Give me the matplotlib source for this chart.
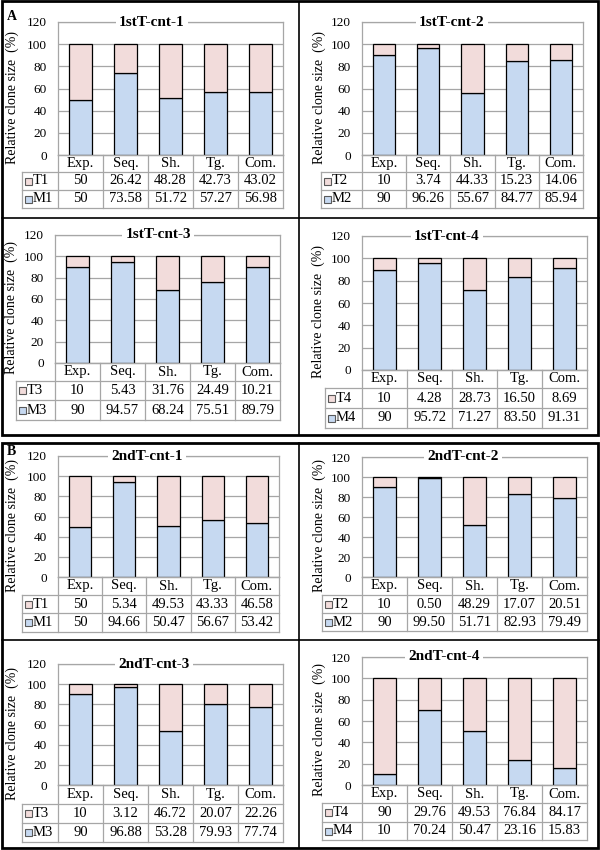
import matplotlib
matplotlib.use('Agg')
import matplotlib.pyplot as plt
import matplotlib.transforms as mtransforms
from matplotlib.lines import Line2D
from matplotlib.patches import Rectangle

plt.rcParams['font.family'] = ['Liberation Serif', 'DejaVu Serif']

PINK = '#F2DCDB'
BLUE = '#C6D9F1'
GRID = '#A6A6A6'
TABLE = '#A6A6A6'

W, H = 600, 850

categories = ['Exp.', 'Seq.', 'Sh.', 'Tg.', 'Com.']

a1_t = [50, 26.42, 48.28, 42.73, 43.02]
a1_m = [50, 73.58, 51.72, 57.27, 56.98]
a2_t = [10, 3.74, 44.33, 15.23, 14.06]
a2_m = [90, 96.26, 55.67, 84.77, 85.94]
a3_t = [10, 5.43, 31.76, 24.49, 10.21]
a3_m = [90, 94.57, 68.24, 75.51, 89.79]
a4_t = [10, 4.28, 28.73, 16.50, 8.69]
a4_m = [90, 95.72, 71.27, 83.50, 91.31]
b1_t = [50, 5.34, 49.53, 43.33, 46.58]
b1_m = [50, 94.66, 50.47, 56.67, 53.42]
b2_t = [10, 0.50, 48.29, 17.07, 20.51]
b2_m = [90, 99.50, 51.71, 82.93, 79.49]
b3_t = [10, 3.12, 46.72, 20.07, 22.26]
b3_m = [90, 96.88, 53.28, 79.93, 77.74]
b4_t = [90, 29.76, 49.53, 76.84, 84.17]
b4_m = [10, 70.24, 50.47, 23.16, 15.83]

# (title, T name, M name, T values, M values)
panels = [
    ('1stT-cnt-1', 'T1', 'M1', a1_t, a1_m),
    ('1stT-cnt-2', 'T2', 'M2', a2_t, a2_m),
    ('1stT-cnt-3', 'T3', 'M3', a3_t, a3_m),
    ('1stT-cnt-4', 'T4', 'M4', a4_t, a4_m),
    ('2ndT-cnt-1', 'T1', 'M1', b1_t, b1_m),
    ('2ndT-cnt-2', 'T2', 'M2', b2_t, b2_m),
    ('2ndT-cnt-3', 'T3', 'M3', b3_t, b3_m),
    ('2ndT-cnt-4', 'T4', 'M4', b4_t, b4_m),
]

# layout in pixels: axis left, right, top(120), bottom(0), row edges,
# label column left, ylabel x, title x
layout = [
    dict(l=58, r=283, t=22, b=155, rows=(172, 190, 208), ll=22, yl=12, tx=152),
    dict(l=362, r=583, t=22, b=155, rows=(172, 190, 208), ll=321, yl=319, tx=452),
    dict(l=55, r=280, t=235, b=363, rows=(381, 400, 420), ll=16, yl=11, tx=158),
    dict(l=362, r=587, t=236, b=370, rows=(388, 408, 428), ll=325, yl=318, tx=447),
    dict(l=58, r=279, t=456, b=577, rows=(595, 613, 632), ll=22, yl=12, tx=147),
    dict(l=362, r=587, t=457, b=577, rows=(595, 613, 631), ll=322, yl=319, tx=463),
    dict(l=58, r=283, t=664, b=785, rows=(804, 823, 842), ll=22, yl=12, tx=154),
    dict(l=362, r=587, t=657, b=785, rows=(803, 822, 840), ll=322, yl=319, tx=444),
]


def fy(y):
    return 1 - y / H


def fmt(v):
    return f'{v:.0f}' if float(v).is_integer() else f'{v:.2f}'


def draw_panel(fig, spec, lay):
    title, tname, mname, tv, mv = spec
    l, r, t, b = lay['l'], lay['r'], lay['t'], lay['b']
    ax = fig.add_axes([l / W, fy(b), (r - l) / W, (b - t) / H])
    x = list(range(len(categories)))
    ax.bar(x, mv, width=0.5, color=BLUE, edgecolor='black', linewidth=0.9, zorder=3)
    ax.bar(x, tv, bottom=mv, width=0.5, color=PINK, edgecolor='black',
           linewidth=0.9, zorder=3)
    ax.set_xlim(-0.5, len(categories) - 0.5)
    ax.set_ylim(0, 120)
    ax.set_yticks(range(0, 121, 20))
    ax.set_xticks([])
    ax.tick_params(axis='y', length=0, labelsize=9.5, pad=8)
    ax.yaxis.grid(True, color=GRID, linewidth=0.9, zorder=0)
    for s in ax.spines.values():
        s.set_color(GRID)
        s.set_linewidth(0.9)

    # table under the plot: x from the axis data scale, y in figure pixels
    tr = mtransforms.blended_transform_factory(ax.transData, fig.transFigure)
    n = len(categories)
    x_ll = (lay['ll'] - l) / (r - l) * n - 0.5
    r1, r2, r3 = lay['rows']
    kw = dict(transform=tr, color=TABLE, linewidth=0.9, clip_on=False)
    fig.add_artist(Line2D([-0.5, n - 0.5], [fy(b), fy(b)], **kw))
    for yy in (r1, r2, r3):
        fig.add_artist(Line2D([x_ll, n - 0.5], [fy(yy), fy(yy)], **kw))
    for i in range(n + 1):
        fig.add_artist(Line2D([i - 0.5, i - 0.5], [fy(b), fy(r3)], **kw))
    fig.add_artist(Line2D([x_ll, x_ll], [fy(r1), fy(r3)], **kw))

    for i, c in enumerate(categories):
        fig.text(i, fy((b + r1) / 2), c, transform=tr, ha='center', va='center',
                 fontsize=10.5)
        fig.text(i, fy((r1 + r2) / 2), fmt(tv[i]), transform=tr, ha='center',
                 va='center', fontsize=10.5)
        fig.text(i, fy((r2 + r3) / 2), fmt(mv[i]), transform=tr, ha='center',
                 va='center', fontsize=10.5)

    # row labels with legend keys
    for (ya, yb_), name, col in (((r1, r2), tname, PINK), ((r2, r3), mname, BLUE)):
        yc = (ya + yb_) / 2
        fig.add_artist(Rectangle(((lay['ll'] + 3) / W, fy(yc + 3.5)), 7 / W, 7 / H,
                                 transform=fig.transFigure, facecolor=col,
                                 edgecolor='#595959', linewidth=0.8))
        fig.text((lay['ll'] + 11) / W, fy(yc), name, ha='left', va='center',
                 fontsize=10.5)

    fig.text(lay['yl'] / W, fy((t + r1) / 2), 'Relative clone size  (%)',
             rotation=90, ha='center', va='center', fontsize=10)
    fig.text(lay['tx'] / W, fy(t), title, ha='center', va='center', fontsize=11,
             fontweight='bold',
             bbox=dict(facecolor='white', edgecolor='none', pad=2.5))
    return ax


fig = plt.figure(figsize=(W / 100, H / 100), dpi=100)
fig.patch.set_facecolor('white')

for spec, lay in zip(panels, layout):
    draw_panel(fig, spec, lay)

# section frames and dividers
frame = dict(transform=fig.transFigure, color='black', clip_on=False)
for (y_top, y_bot, y_mid) in ((1.5, 435, 218), (443, 847.5, 640)):
    fig.add_artist(Rectangle((1.5 / W, fy(y_bot)), 596.5 / W, (y_bot - y_top) / H,
                             transform=fig.transFigure, facecolor='none',
                             edgecolor='black', linewidth=2))
    fig.add_artist(Line2D([0.25 / 100, 1 - 0.25 / 100], [fy(y_mid), fy(y_mid)],
                          linewidth=1.2, **frame))
    fig.add_artist(Line2D([299 / W, 299 / W], [fy(y_top), fy(y_bot)], linewidth=1.2,
                          **frame))

fig.text(7 / W, fy(17), 'A', fontsize=10, fontweight='bold', va='center')
fig.text(7 / W, fy(451), 'B', fontsize=10, fontweight='bold', va='center')

fig.savefig('out.png', dpi=100, facecolor='white')
